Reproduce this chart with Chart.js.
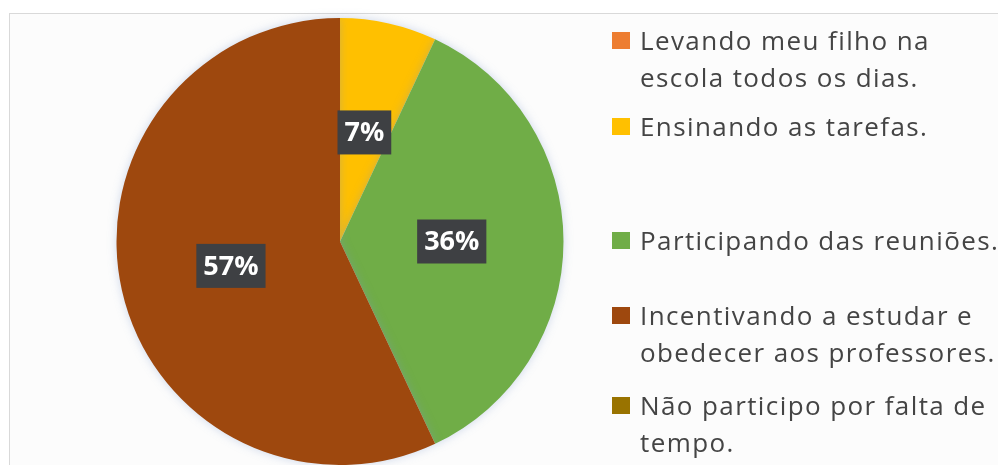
<!DOCTYPE html>
<html>
<head>
<meta charset="utf-8">
<script src="https://cdn.jsdelivr.net/npm/chart.js@4.4.1/dist/chart.umd.min.js"></script>
<style>
  html, body { margin: 0; padding: 0; background: #fff; }
  #wrap { position: relative; width: 998px; height: 465px; overflow: hidden; }
  #frame { position: absolute; left: 9px; top: 13px; right: -2px; bottom: -2px;
           border: 1px solid #d9d9d9; background: #fcfcfc; }
  #chart { position: absolute; left: 0; top: 0; }
  #legend { position: absolute; left: 612px; top: 0; width: 420px;
            font-family: "Open Sans", sans-serif; font-size: 26px; letter-spacing: 1.4px;
            color: #444; }
  .item { position: absolute; left: 0; white-space: nowrap; line-height: 37px; }
  .sw { position: absolute; left: 0; top: 10px; width: 18px; height: 17px; }
  .txt { position: absolute; left: 28px; top: 0; }
</style>
</head>
<body>
<div id="wrap">
  <div id="frame"></div>
  <canvas id="chart" width="998" height="465"></canvas>
  <div id="legend"></div>
</div>
<script>
var categories = [
  ["Levando meu filho na", "escola todos os dias."],
  ["Ensinando as tarefas."],
  ["Participando das reuniões."],
  ["Incentivando a estudar e", "obedecer aos professores."],
  ["Não participo por falta de", "tempo."]
];
var percents = [0, 7, 36, 57, 0];
var colors = ["#ED7D31", "#FFC000", "#70AD47", "#9E480E", "#997300"];

// legend row tops (layout only)
var legendTops = [22, 108, 222, 297, 387];

var legend = document.getElementById("legend");
categories.forEach(function (lines, i) {
  var item = document.createElement("div");
  item.className = "item";
  item.style.top = legendTops[i] + "px";
  item.innerHTML = '<span class="sw" style="background:' + colors[i] + '"></span>' +
    '<span class="txt">' + lines.join("<br>") + '</span>';
  legend.appendChild(item);
});

var boxLabels = {
  id: "boxLabels",
  afterDatasetsDraw: function (chart) {
    var ctx = chart.ctx;
    var meta = chart.getDatasetMeta(0);
    ctx.save();
    ctx.font = "bold 27px 'Open Sans', sans-serif";
    ctx.textAlign = "center";
    ctx.textBaseline = "middle";
    meta.data.forEach(function (arc, i) {
      var v = percents[i];
      if (!v) return;
      var p = arc.getCenterPoint();
      var t = v + "%";
      var w = ctx.measureText(t).width + 14;
      var h = 44;
      ctx.fillStyle = "#3e4043";
      ctx.fillRect(p.x - w / 2, p.y - h / 2, w, h);
      ctx.fillStyle = "#ffffff";
      ctx.fillText(t, p.x, p.y + 1);
    });
    ctx.restore();
  }
};

var pieShadow = {
  id: "pieShadow",
  beforeDatasetsDraw: function (chart) {
    var ctx = chart.ctx;
    ctx.save();
    ctx.shadowColor = "rgba(120,150,200,0.35)";
    ctx.shadowBlur = 10;
  },
  afterDatasetsDraw: function (chart) {
    chart.ctx.restore();
  }
};

new Chart(document.getElementById("chart"), {
  type: "pie",
  data: {
    labels: categories,
    datasets: [{
      data: percents,
      backgroundColor: colors,
      borderWidth: 0
    }]
  },
  options: {
    responsive: false,
    animation: false,
    layout: { padding: { left: 115, right: 433, top: 18, bottom: 0 } },
    plugins: {
      legend: { display: false },
      tooltip: { enabled: false }
    }
  },
  plugins: [pieShadow, boxLabels]
});
</script>
</body>
</html>
